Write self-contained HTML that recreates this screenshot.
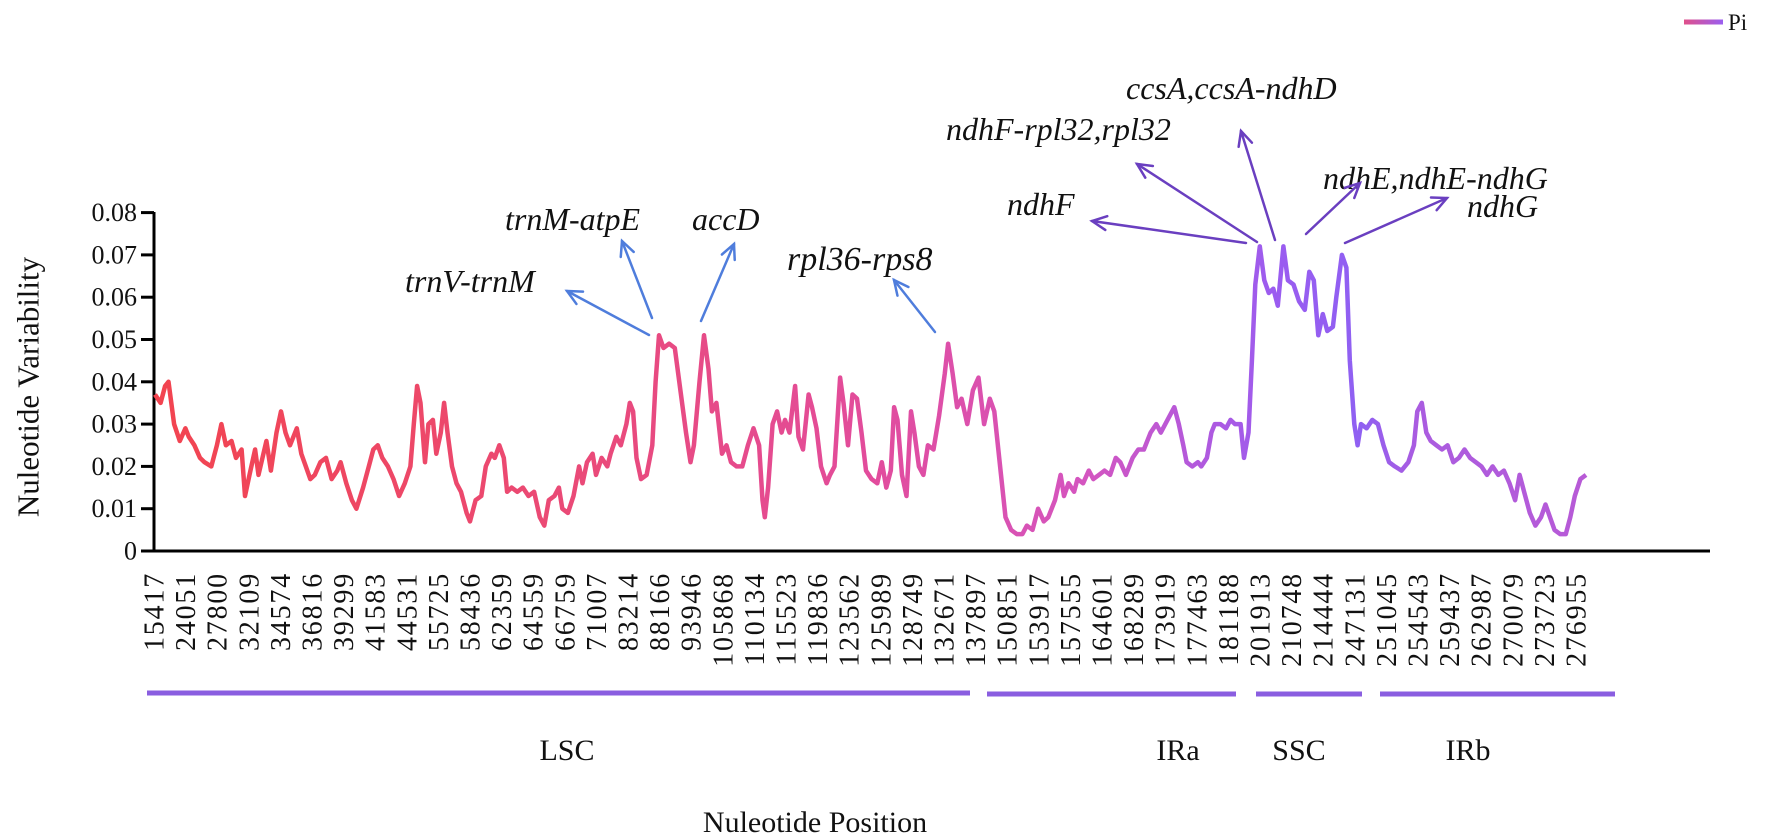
<!DOCTYPE html>
<html><head><meta charset="utf-8"><style>
html,body{margin:0;padding:0;background:#fff;}
svg{display:block;}
text{font-family:"Liberation Serif",serif;fill:#111;}
.it{font-style:italic;font-size:32px;}
</style></head><body>
<svg id="s" width="1770" height="836" viewBox="0 0 1770 836" xmlns="http://www.w3.org/2000/svg">
<defs>
<linearGradient id="g" gradientUnits="userSpaceOnUse" x1="150" y1="0" x2="1590" y2="0">
<stop offset="0" stop-color="#f2444f"/>
<stop offset="0.3" stop-color="#ea4a78"/>
<stop offset="0.5" stop-color="#e24c9c"/>
<stop offset="0.65" stop-color="#d455c0"/>
<stop offset="0.78" stop-color="#9b5cf0"/>
<stop offset="0.84" stop-color="#8f60f2"/>
<stop offset="0.88" stop-color="#aa5ce0"/>
<stop offset="1" stop-color="#b85ad6"/>
</linearGradient>
<linearGradient id="lg" gradientUnits="userSpaceOnUse" x1="1684" y1="0" x2="1723" y2="0">
<stop offset="0" stop-color="#e0508a"/><stop offset="1" stop-color="#9a5ef0"/>
</linearGradient>
</defs>
<g id="ax" stroke="#000" stroke-width="3" fill="none">
<line x1="154" y1="212" x2="154" y2="552"/>
<line x1="152" y1="551" x2="1710" y2="551"/>
</g>
<g id="yt"></g>
<g id="xt"></g>
<path id="curve" fill="none" stroke="url(#g)" stroke-width="4.5" stroke-linejoin="round"/>
<text x="28" y="387" font-size="31" text-anchor="middle" transform="rotate(-90 28 387)" dominant-baseline="central">Nuleotide Variability</text>
<text x="815" y="832" font-size="30" text-anchor="middle">Nuleotide Position</text>
<g stroke="#8a5ee0" stroke-width="5">
<line x1="147" y1="693" x2="970" y2="693"/>
<line x1="987" y1="694" x2="1236" y2="694"/>
<line x1="1256" y1="694" x2="1362" y2="694"/>
<line x1="1380" y1="694" x2="1615" y2="694"/>
</g>
<g font-size="30" text-anchor="middle">
<text x="567" y="760">LSC</text>
<text x="1178" y="760">IRa</text>
<text x="1299" y="760">SSC</text>
<text x="1468" y="760">IRb</text>
</g>
<line x1="1684" y1="22" x2="1723" y2="22" stroke="url(#lg)" stroke-width="5"/>
<text x="1728" y="30" font-size="23">Pi</text>
<g>
<text class="it" x="405" y="292">trnV-trnM</text>
<text class="it" x="505" y="230">trnM-atpE</text>
<text class="it" x="692" y="230">accD</text>
<text class="it" x="787" y="270" style="font-size:34px">rpl36-rps8</text>
<text class="it" x="1007" y="215">ndhF</text>
<text class="it" x="946" y="140">ndhF-rpl32,rpl32</text>
<text class="it" x="1126" y="99">ccsA,ccsA-ndhD</text>
<text class="it" x="1323" y="189">ndhE,ndhE-ndhG</text>
<text class="it" x="1467" y="217">ndhG</text>
</g>
<g id="arr" fill="none" stroke-width="2.5" stroke-linecap="round"></g>
</svg>
<script>
var NS="http://www.w3.org/2000/svg";
function el(t,a,p,txt){var e=document.createElementNS(NS,t);for(var k in a)e.setAttribute(k,a[k]);if(txt!==undefined)e.textContent=txt;p.appendChild(e);return e;}
function Y(v){return 551-v*4230;}
var yt=document.getElementById('yt');
for(var i=0;i<=8;i++){var y=Y(i*0.01);
el('line',{x1:141,y1:y,x2:154,y2:y,stroke:'#000','stroke-width':3},yt);
el('text',{x:137,y:y,'font-size':26,'text-anchor':'end','dominant-baseline':'central'},yt,i==0?'0':'0.0'+i);}
var labs="15417 24051 27800 32109 34574 36816 39299 41583 44531 55725 58436 62359 64559 66759 71007 83214 88166 93946 105868 110134 115523 119836 123562 125989 128749 132671 137897 150851 153917 157555 164601 168289 173919 177463 181188 201913 210748 214444 247131 251045 254543 259437 262987 270079 273723 276955".split(" ");
var xt=document.getElementById('xt');
for(var i=0;i<labs.length;i++){var x=155+i*(1577-155)/45;
el('text',{x:x,y:572,'font-size':28,'letter-spacing':'1.8','text-anchor':'end','dominant-baseline':'central',transform:'rotate(-90 '+x+' 572)'},xt,labs[i]);}
var d=[128,.037,133,.035,137,.039,140,.040,145,.030,150,.026,155,.029,158,.027,163,.025,168,.022,172,.021,178,.020,183,.025,187,.030,191,.025,196,.026,200,.022,205,.024,208,.013,212,.018,217,.024,220,.018,227,.026,231,.019,236,.028,240,.033,244,.028,248,.025,254,.029,258,.023,262,.020,266,.017,270,.018,275,.021,280,.022,285,.017,290,.019,293,.021,298,.016,303,.012,307,.010,313,.015,318,.020,322,.024,326,.025,330,.022,335,.020,340,.017,345,.013,350,.016,355,.020,358,.030,361,.039,364,.035,368,.021,371,.030,375,.031,378,.023,382,.028,385,.035,388,.028,392,.020,396,.016,400,.014,405,.009,408,.007,413,.012,418,.013,422,.020,427,.023,430,.022,434,.025,438,.022,441,.014,445,.015,450,.014,455,.015,460,.013,465,.014,470,.008,474,.006,478,.012,483,.013,487,.015,490,.010,495,.009,500,.013,505,.020,508,.016,512,.021,517,.023,520,.018,525,.022,530,.020,533,.023,538,.027,542,.025,547,.030,550,.035,553,.033,556,.022,560,.017,565,.018,570,.025,573,.040,576,.051,580,.048,585,.049,590,.048,595,.038,600,.028,604,.021,607,.025,612,.040,616,.051,620,.043,623,.033,627,.035,632,.023,636,.025,640,.021,645,.020,650,.020,655,.025,660,.029,665,.025,668,.012,670,.008,673,.015,677,.030,681,.033,685,.028,688,.031,692,.028,697,.039,700,.027,704,.024,709,.037,712,.034,716,.029,720,.020,725,.016,728,.018,732,.020,737,.041,740,.035,744,.025,748,.037,752,.036,756,.028,760,.019,765,.017,770,.016,774,.021,778,.015,782,.019,785,.034,788,.031,792,.018,796,.013,800,.033,803,.028,807,.020,811,.018,815,.025,820,.024,825,.032,830,.042,833,.049,837,.042,841,.034,845,.036,850,.030,855,.038,860,.041,865,.030,870,.036,874,.033,880,.018,884,.008,889,.005,894,.004,899,.004,903,.006,908,.005,913,.010,918,.007,922,.008,928,.012,933,.018,936,.013,940,.016,945,.014,948,.017,953,.016,958,.019,962,.017,967,.018,972,.019,977,.018,982,.022,986,.021,991,.018,997,.022,1002,.024,1007,.024,1013,.028,1018,.030,1022,.028,1028,.031,1034,.034,1038,.030,1042,.025,1045,.021,1050,.020,1055,.021,1058,.020,1063,.022,1067,.028,1070,.030,1075,.030,1080,.029,1084,.031,1088,.030,1093,.030,1096,.022,1100,.028,1103,.045,1106,.063,1110,.072,1114,.064,1118,.061,1122,.062,1126,.058,1131,.072,1135,.064,1140,.063,1145,.059,1150,.057,1154,.066,1158,.064,1162,.051,1166,.056,1170,.052,1175,.053,1178,.060,1183,.070,1187,.067,1190,.045,1194,.030,1197,.025,1200,.030,1205,.029,1210,.031,1215,.030,1220,.025,1225,.021,1230,.020,1236,.019,1242,.021,1247,.025,1250,.033,1254,.035,1258,.028,1262,.026,1267,.025,1272,.024,1277,.025,1282,.021,1287,.022,1292,.024,1297,.022,1302,.021,1307,.020,1312,.018,1317,.020,1322,.018,1327,.019,1332,.016,1337,.012,1341,.018,1345,.014,1350,.009,1355,.006,1360,.008,1364,.011,1368,.008,1372,.005,1377,.004,1382,.004,1386,.008,1390,.013,1395,.017,1400,.018];
var p="";for(var i=0;i<d.length;i+=2){var x=155+(d[i]-128)*1.125;p+=(i?"L":"M")+x.toFixed(1)+" "+Y(d[i+1]).toFixed(1);}
document.getElementById('curve').setAttribute('d',p);
var ar=document.getElementById('arr');
function arrow(x1,y1,x2,y2,c){el('line',{x1:x1,y1:y1,x2:x2,y2:y2,stroke:c},ar);
var a=Math.atan2(y2-y1,x2-x1),L=16,w=0.45;
el('polyline',{points:(x2-L*Math.cos(a-w))+","+(y2-L*Math.sin(a-w))+" "+x2+","+y2+" "+(x2-L*Math.cos(a+w))+","+(y2-L*Math.sin(a+w)),stroke:c},ar);}
var B="#4f7ddc",P="#6a3fc0";
arrow(649,335,567,291,B);arrow(652,318,622,241,B);arrow(701,321,734,244,B);arrow(935,332,894,280,B);
arrow(1246,243,1092,221,P);arrow(1257,242,1137,164,P);arrow(1275,240,1241,131,P);arrow(1306,234,1360,183,P);arrow(1345,243,1447,198,P);
</script>
</body></html>
